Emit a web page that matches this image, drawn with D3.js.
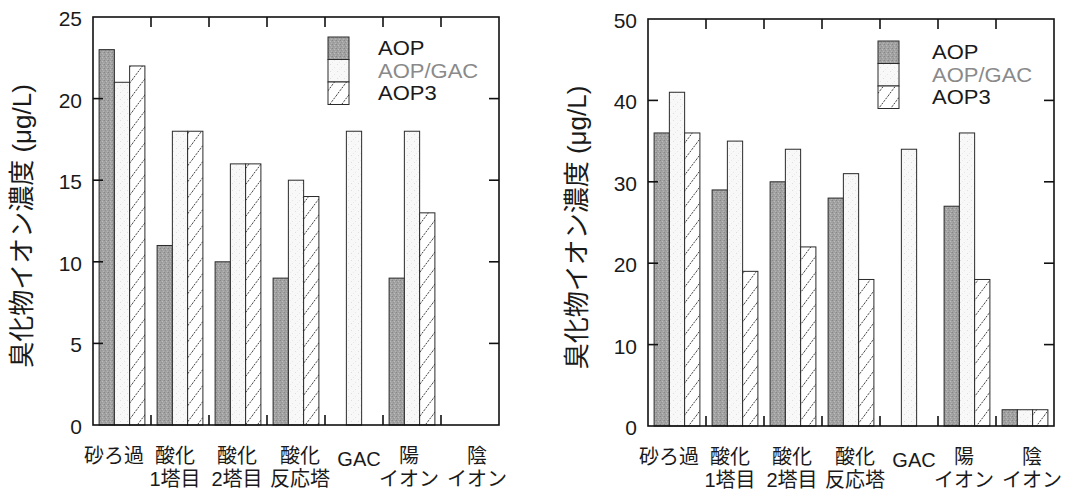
<!DOCTYPE html>
<html>
<head>
<meta charset="utf-8">
<script src="https://cdn.jsdelivr.net/npm/d3@7"></script>
<style>
  body { margin: 0; background: #fff; }
  svg { display: block; }
</style>
</head>
<body>
<svg id="chart" width="1071" height="496"></svg>
<script>
// Treatment stages (two-line labels)
const categories = [
  ["砂ろ過"], ["酸化", "1塔目"], ["酸化", "2塔目"], ["酸化", "反応塔"],
  ["GAC"], ["陽", "イオン"], ["陰", "イオン"]
];
const seriesNames = ["AOP", "AOP/GAC", "AOP3"];
const yLabel = "臭化物イオン濃度 (μg/L)";

// Left panel: bromide concentration (μg/L); null = no measurement
const leftAOP    = [23, 11, 10, 9, null, 9, null];
const leftAOPGAC = [21, 18, 16, 15, 18, 18, null];
const leftAOP3   = [22, 18, 16, 14, null, 13, null];
const leftTicks  = [0, 5, 10, 15, 20, 25];

// Right panel
const rightAOP    = [36, 29, 30, 28, null, 27, 2];
const rightAOPGAC = [41, 35, 34, 31, 34, 36, 2];
const rightAOP3   = [36, 19, 22, 18, null, 18, 2];
const rightTicks  = [0, 10, 20, 30, 40, 50];

const svg = d3.select("#chart");
const latin = "'Liberation Sans', Arial, 'Noto Sans CJK JP', sans-serif";

// ---- fill patterns ----
const defs = svg.append("defs");

// stippled mid gray
const pGray = defs.append("pattern").attr("id", "fillAOP")
  .attr("patternUnits", "userSpaceOnUse").attr("width", 4).attr("height", 4);
pGray.append("rect").attr("width", 4).attr("height", 4).attr("fill", "#a2a2a2");
[[0, 0, "#878787"], [2, 1, "#bdbdbd"], [1, 2, "#939393"], [3, 3, "#b4b4b4"], [3, 0, "#9a9a9a"]]
  .forEach(([x, y, c]) => pGray.append("rect").attr("x", x).attr("y", y)
    .attr("width", 1).attr("height", 1).attr("fill", c));

// near-white with sparse specks
const pLight = defs.append("pattern").attr("id", "fillGAC")
  .attr("patternUnits", "userSpaceOnUse").attr("width", 7).attr("height", 7);
pLight.append("rect").attr("width", 7).attr("height", 7).attr("fill", "#f8f8f8");
[[1, 1, "#dedede"], [5, 4, "#e6e6e6"], [3, 6, "#ebebeb"]]
  .forEach(([x, y, c]) => pLight.append("rect").attr("x", x).attr("y", y)
    .attr("width", 1).attr("height", 1).attr("fill", c));

// diagonal hatching
const hw = 12, hh = 16;
const pHatch = defs.append("pattern").attr("id", "fillAOP3")
  .attr("patternUnits", "userSpaceOnUse").attr("width", hw).attr("height", hh);
pHatch.append("rect").attr("width", hw).attr("height", hh).attr("fill", "#fff");
pHatch.append("path")
  .attr("d", `M0,${hh} L${hw},0 M${-hw},${hh} L0,0 M${hw},${2 * hh} L${2 * hw},${hh}`)
  .attr("stroke", "#3a3a3a").attr("stroke-width", 1).attr("stroke-dasharray", "2,1.2");

const fills = { "AOP": "url(#fillAOP)", "AOP/GAC": "url(#fillGAC)", "AOP3": "url(#fillAOP3)" };
const legendText = { "AOP": "#1a1a1a", "AOP/GAC": "#8a8a8a", "AOP3": "#1a1a1a" };

// small horizontal nudges for the category labels
const labelShift = [-8, -5, -1, 4, 5, -3, 7];

function drawPanel(cfg) {
  const { left, right, top, bottom, ticks, values } = cfg;
  const g = svg.append("g");

  const x0 = d3.scaleBand().domain(d3.range(categories.length)).range([left, right]);
  const x1 = d3.scaleBand().domain(seriesNames).range([0, x0.bandwidth()])
    .paddingInner(0).paddingOuter(0.4);
  const y = d3.scaleLinear().domain([0, d3.max(ticks)]).range([bottom, top]);

  // bars
  seriesNames.forEach((s, si) => {
    const data = values[si].map((v, i) => ({ i, v })).filter(d => d.v != null);
    g.selectAll(null).data(data).join("rect")
      .attr("x", d => x0(d.i) + x1(s))
      .attr("y", d => y(d.v))
      .attr("width", x1.bandwidth())
      .attr("height", d => y(0) - y(d.v))
      .attr("fill", fills[s])
      .attr("stroke", "#2a2a2a")
      .attr("stroke-width", 1);
  });

  // frame
  g.append("rect").attr("x", left).attr("y", top)
    .attr("width", right - left).attr("height", bottom - top)
    .attr("fill", "none").attr("stroke", "#111").attr("stroke-width", 1.6);

  // category separators on top and bottom edges
  const seps = d3.range(1, categories.length).map(i => x0(i));
  seps.forEach(sx => {
    g.append("line").attr("x1", sx).attr("x2", sx).attr("y1", top).attr("y2", top + 10)
      .attr("stroke", "#111").attr("stroke-width", 1.6);
    g.append("line").attr("x1", sx).attr("x2", sx).attr("y1", bottom).attr("y2", bottom - 10)
      .attr("stroke", "#111").attr("stroke-width", 1.6);
  });

  // y axis (ticks drawn inward on both sides)
  const axL = d3.axisLeft(y).tickValues(ticks).tickSize(0).tickPadding(11);
  const ga = g.append("g").attr("transform", `translate(${left},0)`).call(axL);
  ga.select(".domain").remove();
  ga.selectAll("text").attr("font-family", latin).attr("font-size", 21)
    .attr("fill", "#1a1a1a").attr("dy", "0.4em");
  ticks.filter(t => t > 0 && t < d3.max(ticks)).forEach(t => {
    g.append("line").attr("x1", left).attr("x2", left + 10).attr("y1", y(t)).attr("y2", y(t))
      .attr("stroke", "#111").attr("stroke-width", 1.6);
    g.append("line").attr("x1", right).attr("x2", right - 10).attr("y1", y(t)).attr("y2", y(t))
      .attr("stroke", "#111").attr("stroke-width", 1.6);
  });

  // y axis title
  g.append("text")
    .attr("transform", `translate(${left - 71},${(top + bottom) / 2 + 5}) rotate(-90)`)
    .attr("text-anchor", "middle").attr("dominant-baseline", "central")
    .attr("font-family", latin).attr("font-size", 26).attr("fill", "#1a1a1a")
    .text(yLabel);

  // category labels
  categories.forEach((lines, i) => {
    const cx = x0(i) + x0.bandwidth() / 2 + labelShift[i];
    lines.forEach((ln, li) => {
      const isLatin = /^[A-Za-z]+$/.test(ln);
      g.append("text")
        .attr("x", cx)
        .attr("y", bottom + (li === 0 ? (isLatin ? 41 : 38) : 61))
        .attr("text-anchor", "middle")
        .attr("font-family", latin).attr("font-size", 20).attr("fill", "#1a1a1a")
        .text(ln);
    });
  });

  // legend: stacked swatches with labels
  const lx = left + cfg.legendDx, ly = top + cfg.legendDy, sw = 21, sh = 22.5;
  seriesNames.forEach((s, si) => {
    const tx = lx + sw + cfg.legendGap, ty = ly + si * sh + sh / 2 + 7;
    g.append("rect").attr("x", lx).attr("y", ly + si * sh)
      .attr("width", sw).attr("height", sh)
      .attr("fill", fills[s]).attr("stroke", "#2a2a2a").attr("stroke-width", 1);
    g.append("text")
      .attr("transform", `translate(${tx},${ty}) scale(1.1,1)`)
      .attr("font-family", latin).attr("font-size", 20).attr("fill", legendText[s])
      .text(s);
  });
}

drawPanel({
  left: 93, right: 499, top: 17, bottom: 425, ticks: leftTicks,
  values: [leftAOP, leftAOPGAC, leftAOP3],
  legendDx: 235, legendDy: 20, legendGap: 29
});
drawPanel({
  left: 648, right: 1054, top: 19, bottom: 426, ticks: rightTicks,
  values: [rightAOP, rightAOPGAC, rightAOP3],
  legendDx: 230, legendDy: 22, legendGap: 33
});
</script>
</body>
</html>
